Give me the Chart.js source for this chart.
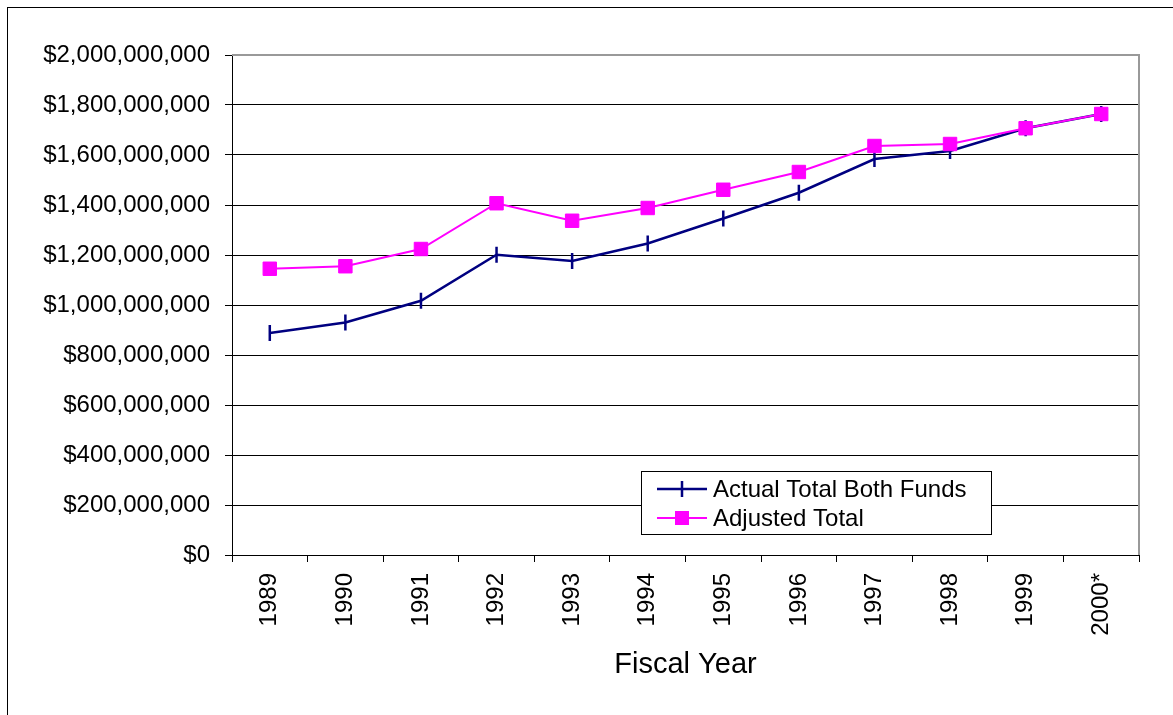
<!DOCTYPE html>
<html>
<head>
<meta charset="utf-8">
<script src="https://cdn.jsdelivr.net/npm/chart.js@4.4.1/dist/chart.umd.min.js"></script>
<style>
  body { margin: 0; background: #fff; }
  #wrap { position: relative; width: 1173px; height: 715px; }
</style>
</head>
<body>
<div id="wrap"><canvas id="chart"></canvas></div>
<script>
// data
const years = ["1989", "1990", "1991", "1992", "1993", "1994", "1995", "1996", "1997", "1998", "1999", "2000*"];
const actualTotal = [888e6, 930e6, 1017e6, 1201e6, 1176e6, 1246e6, 1346e6, 1449e6, 1584e6, 1616e6, 1707e6, 1764e6];
const adjustedTotal = [1145e6, 1155e6, 1224e6, 1407e6, 1337e6, 1388e6, 1461e6, 1532e6, 1636e6, 1644e6, 1707e6, 1764e6];
const seriesNames = ["Actual Total Both Funds", "Adjusted Total"];
const xTitle = "Fiscal Year";
const yMax = 2000000000;

const FONT = "'Liberation Sans', Arial, sans-serif";
const NAVY = "#000080";
const MAGENTA = "#ff00ff";

// frame, plot border and legend box (Excel style)
const decor = {
  id: "decor",
  beforeDraw(chart) {
    const ctx = chart.ctx;
    ctx.save();
    ctx.strokeStyle = "#000";
    ctx.lineWidth = 1;
    ctx.strokeRect(7.5, 7.5, 1300, 900);
    ctx.restore();
  },
  beforeDatasetsDraw(chart) {
    const ctx = chart.ctx;
    const a = chart.chartArea;
    ctx.save();
    ctx.strokeStyle = "#999";
    ctx.lineWidth = 2;
    ctx.beginPath();
    ctx.moveTo(a.left, a.top);
    ctx.lineTo(a.right, a.top);
    ctx.lineTo(a.right, a.bottom);
    ctx.stroke();
    ctx.restore();
  },
  afterDraw(chart) {
    const ctx = chart.ctx;
    ctx.save();
    // legend
    const lx = 641, ly = 471, lw = 350, lh = 63;
    ctx.fillStyle = "#fff";
    ctx.fillRect(lx, ly, lw, lh);
    ctx.strokeStyle = "#000";
    ctx.lineWidth = 1;
    ctx.strokeRect(lx + 0.5, ly + 0.5, lw, lh);

    const rows = [489, 518];
    ctx.font = "24px " + FONT;
    ctx.textBaseline = "middle";
    ctx.fillStyle = "#000";

    // row 1
    ctx.strokeStyle = NAVY;
    ctx.lineWidth = 2.5;
    ctx.beginPath();
    ctx.moveTo(657, rows[0]); ctx.lineTo(707, rows[0]);
    ctx.moveTo(682, rows[0] - 8); ctx.lineTo(682, rows[0] + 8);
    ctx.stroke();
    ctx.fillText(seriesNames[0], 713, rows[0] + 1);

    // row 2
    ctx.strokeStyle = MAGENTA;
    ctx.lineWidth = 2;
    ctx.beginPath();
    ctx.moveTo(657, rows[1]); ctx.lineTo(707, rows[1]);
    ctx.stroke();
    ctx.fillStyle = MAGENTA;
    ctx.fillRect(675, rows[1] - 7, 14, 14);
    ctx.fillStyle = "#000";
    ctx.fillText(seriesNames[1], 713, rows[1] + 1);
    ctx.restore();
  }
};

new Chart(document.getElementById("chart"), {
  type: "line",
  data: {
    labels: years,
    datasets: [
      {
        label: seriesNames[0],
        data: actualTotal,
        borderColor: NAVY,
        backgroundColor: NAVY,
        borderWidth: 2.5,
        pointStyle: "line",
        rotation: 90,
        pointRadius: 8,
        pointBorderWidth: 2.5,
        pointHoverRadius: 8,
        tension: 0,
        order: 2
      },
      {
        label: seriesNames[1],
        data: adjustedTotal,
        borderColor: MAGENTA,
        backgroundColor: MAGENTA,
        borderWidth: 2,
        pointStyle: "rect",
        pointRadius: 9.5,
        pointBorderWidth: 1,
        pointHoverRadius: 9.5,
        tension: 0,
        order: 1
      }
    ]
  },
  options: {
    responsive: true,
    maintainAspectRatio: false,
    animation: false,
    layout: { padding: { top: 55, right: 34, bottom: 0, left: 0 } },
    plugins: {
      legend: { display: false },
      tooltip: { enabled: false }
    },
    scales: {
      x: {
        type: "category",
        offset: true,
        afterFit(scale) { scale.height = 160; },
        grid: {
          offset: true,
          drawOnChartArea: false,
          tickLength: 7,
          tickColor: "#000"
        },
        border: { color: "#000", width: 1 },
        ticks: {
          minRotation: 90,
          maxRotation: 90,
          autoSkip: false,
          padding: 11,
          color: "#000",
          font: { family: FONT, size: 24 }
        },
        title: {
          display: true,
          text: xTitle,
          color: "#000",
          font: { family: FONT, size: 29 },
          padding: { top: 0, bottom: 33 }
        }
      },
      y: {
        min: 0,
        max: yMax,
        afterFit(scale) { scale.width = 232; },
        grid: {
          color: (c) => (c.tick && c.tick.value === yMax ? "rgba(0,0,0,0)" : "#000"),
          lineWidth: 1,
          tickLength: 7,
          tickColor: "#000"
        },
        border: { color: "#000", width: 1 },
        ticks: {
          stepSize: 200000000,
          padding: 15,
          color: "#000",
          font: { family: FONT, size: 24 },
          callback: (v) => "$" + Number(v).toLocaleString("en-US")
        }
      }
    }
  },
  plugins: [decor]
});
</script>
</body>
</html>
